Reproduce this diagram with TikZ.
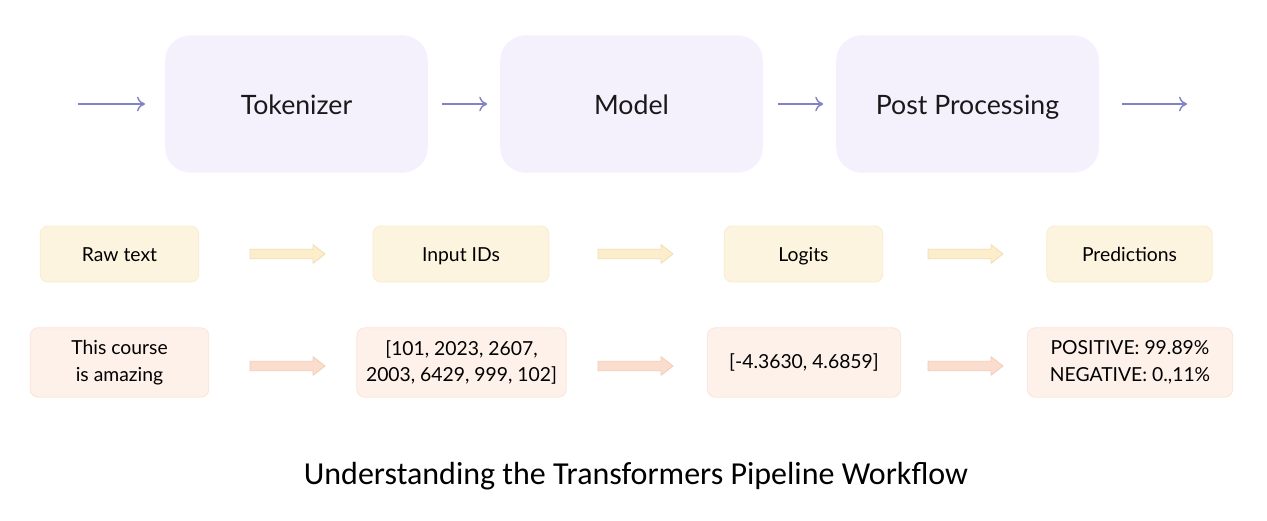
\documentclass[tikz,border=0pt]{standalone}
\usepackage{fontspec}
\setmainfont{Lato}
\newfontfamily\titlefont{Carlito}
\usetikzlibrary{calc,arrows.meta}
\definecolor{lav}{HTML}{F4F1FD}
\definecolor{arrowblue}{HTML}{8282C4}
\definecolor{yelfill}{HTML}{FDF4E0}
\definecolor{yeledge}{HTML}{FAEBCF}
\definecolor{pinkfill}{HTML}{FEF1E9}
\definecolor{pinkedge}{HTML}{FBE4D8}
\definecolor{yarrfill}{HTML}{FCEDCB}
\definecolor{yarredge}{HTML}{F3DDB2}
\definecolor{parrfill}{HTML}{FADDCC}
\definecolor{parredge}{HTML}{F2CDB8}
\tikzset{
  stage/.style={draw=none, fill=lav, rounded corners=19pt, minimum width=197pt, minimum height=103pt, text height=15pt, text depth=0pt, font=\fontsize{20}{24}\selectfont, text=black!90},
  databox/.style={draw=yeledge, line width=0.6pt, fill=yelfill, rounded corners=6pt, minimum height=42pt, text height=11pt, text depth=0pt, font=\fontsize{14.5}{18}\selectfont},
  valbox/.style={draw=pinkedge, line width=0.6pt, fill=pinkfill, rounded corners=6pt, minimum height=52pt, align=center, font=\fontsize{14.5}{20}\selectfont},
  thinarrow/.style={draw=arrowblue, line width=1.1pt, -{To[length=6pt,width=11pt]}},
}
% block arrow: #1 start coordinate, #2 end coordinate, #3 fill, #4 edge
\newcommand\blockarr[4]{%
  \draw[fill=#3, draw=#4, line width=0.6pt, line join=round] ($(#1)+(0,3.5pt)$) -- ($(#2)+(-9pt,3.5pt)$) -- ($(#2)+(-9pt,7pt)$) -- (#2)
    -- ($(#2)+(-9pt,-7pt)$) -- ($(#2)+(-9pt,-3.5pt)$) -- ($(#1)+(0,-3.5pt)$) -- cycle;}
\begin{document}
\begin{tikzpicture}[x=0.75pt,y=-0.75pt]
\useasboundingbox[fill=white] (0,0) rectangle (1267,521);
% top stages
\node[stage] (tok) at (296.5,104) {Tokenizer};
\node[stage] (mod) at (631.5,104) {Model};
\node[stage] (post) at (967.5,104) {Post Processing};
\coordinate (inS) at (78,104);
\coordinate (inE) at (145,104);
\coordinate (outS) at (1122,104);
\coordinate (outE) at (1187,104);
\draw[thinarrow] (inS) -- (inE);
\draw[thinarrow] ([xshift=10.5pt]tok.east) -- ([xshift=-9.5pt]mod.west);
\draw[thinarrow] ([xshift=11pt]mod.east) -- ([xshift=-9.5pt]post.west);
\draw[thinarrow] (outS) -- (outE);
% row 2
\node[databox, minimum width=119pt] (raw) at (119.5,254) {Raw text};
\node[databox, minimum width=132pt] (ids) at (461,254) {Input IDs};
\node[databox, minimum width=119pt] (log) at (803.5,254) {Logits};
\node[databox, minimum width=124pt] (pred) at (1129.5,254) {Predictions};
% row 3
\node[valbox, minimum width=134pt] (txt) at (119.5,362.5) {This course\\is amazing};
\node[valbox, minimum width=157pt] (idv) at (461.5,362.5) {[101, 2023, 2607,\\2003, 6429, 999, 102]};
\node[valbox, minimum width=145pt] (lgv) at (804,362.5) {[-4.3630, 4.6859]};
\node[valbox, minimum width=154pt] (prv) at (1130,362.5) {POSITIVE: 99.89\%\\NEGATIVE: 0.,11\%};
% block arrows
\coordinate (a1s) at (250,254); \coordinate (a1e) at (325,254);
\coordinate (a2s) at (598,254); \coordinate (a2e) at (673,254);
\coordinate (a3s) at (928,254); \coordinate (a3e) at (1003,254);
\coordinate (b1s) at (250,366); \coordinate (b1e) at (325,366);
\coordinate (b2s) at (598,366); \coordinate (b2e) at (673,366);
\coordinate (b3s) at (928,366); \coordinate (b3e) at (1003,366);
\blockarr{a1s}{a1e}{yarrfill}{yarredge}
\blockarr{a2s}{a2e}{yarrfill}{yarredge}
\blockarr{a3s}{a3e}{yarrfill}{yarredge}
\blockarr{b1s}{b1e}{parrfill}{parredge}
\blockarr{b2s}{b2e}{parrfill}{parredge}
\blockarr{b3s}{b3e}{parrfill}{parredge}
% title
\node[font=\titlefont\fontsize{24}{28}\selectfont] (title) at (636,476) {Understanding the Transformers Pipeline Workflow};
\end{tikzpicture}
\end{document}
